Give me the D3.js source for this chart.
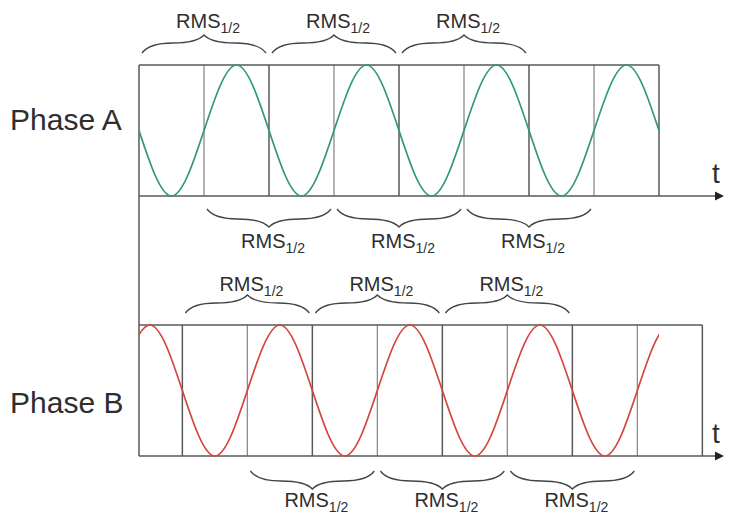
<!DOCTYPE html>
<html>
<head>
<meta charset="utf-8">
<script src="https://cdn.jsdelivr.net/npm/d3@7"></script>
<style>
  body { margin: 0; background: #fff; }
  text { font-family: "Liberation Sans", Arial, sans-serif; fill: #2e2e2e; }
</style>
</head>
<body>
<div id="chart"></div>
<script>
// Time is measured in half-cycles of the mains period
const gridA = [0, 1, 2, 3, 4, 5, 6, 7, 8];
const gridB = [0, 0.667, 1.667, 2.667, 3.667, 4.667, 5.667, 6.667, 7.667, 8.667];

// Waveform samples (peaks, troughs, zero crossings)
const waveA_t = [0, 0.5, 1, 1.5, 2, 2.5, 3, 3.5, 4, 4.5, 5, 5.5, 6, 6.5, 7, 7.5, 8];
const waveA_v = [0, -1, 0, 1, 0, -1, 0, 1, 0, -1, 0, 1, 0, -1, 0, 1, 0];
const waveB_t = [-0.333, 0.167, 0.667, 1.167, 1.667, 2.167, 2.667, 3.167, 3.667, 4.167,
                 4.667, 5.167, 5.667, 6.167, 6.667, 7.167, 7.667, 8.167, 8.667];
const waveB_v = [0, 1, 0, -1, 0, 1, 0, -1, 0, 1, 0, -1, 0, 1, 0, -1, 0, 1, 0];

// RMS 1/2 windows (start, end) in half-cycles
const bracesATop = [[0, 2], [2, 4], [4, 6]];
const bracesABottom = [[1, 3], [3, 5], [5, 7]];
const bracesBTop = [[0.667, 2.667], [2.667, 4.667], [4.667, 6.667]];
const bracesBBottom = [[1.667, 3.667], [3.667, 5.667], [5.667, 7.667]];

const phaseLabels = ["Phase A", "Phase B"];

(function(){
  const width = 731, height = 520;

  const svg = d3.select("#chart")
    .append("svg")
    .attr("width", width)
    .attr("height", height);

  // scales
  const x = d3.scaleLinear().domain([0, 8]).range([139, 659]);
  const yA = d3.scaleLinear().domain([-1, 1]).range([196, 65]);
  const yB = d3.scaleLinear().domain([-1, 1]).range([456, 325]);

  const dark = "#585858", light = "#8c8c8c";

  // clip so the waves stop at the end of the last cell
  svg.append("clipPath").attr("id", "clipWave")
    .append("rect")
    .attr("x", x(0)).attr("y", 0)
    .attr("width", x(8) - x(0)).attr("height", height);

  function panel(grid, y, tMax) {
    const g = svg.append("g");
    const isDark = (i) => grid === gridA ? (i % 2 === 1) : (i % 2 === 0);
    // vertical cell lines
    g.selectAll("line.v")
      .data(grid.slice(1))
      .enter()
      .append("line")
      .attr("x1", d => x(d)).attr("x2", d => x(d))
      .attr("y1", y(1)).attr("y2", y(-1))
      .attr("stroke", (d, i) => isDark(i) ? dark : light)
      .attr("stroke-width", (d, i) => isDark(i) ? 1.5 : 1.3);
    // top border
    g.append("line")
      .attr("x1", x(0)).attr("x2", x(tMax))
      .attr("y1", y(1)).attr("y2", y(1))
      .attr("stroke", dark).attr("stroke-width", 1.5);
    // time axis with arrow
    g.append("line")
      .attr("x1", x(0)).attr("x2", 717)
      .attr("y1", y(-1)).attr("y2", y(-1))
      .attr("stroke", dark).attr("stroke-width", 1.5);
    g.append("path")
      .attr("d", `M715,${y(-1) - 4.5}L724,${y(-1)}L715,${y(-1) + 4.5}Z`)
      .attr("fill", "#222");
    g.append("text")
      .attr("x", 716).attr("y", y(-1) - 13)
      .attr("text-anchor", "middle")
      .style("font-size", "28px")
      .text("t");
  }

  panel(gridA, yA, 8);
  panel(gridB, yB, 8.667);

  // shared vertical axis
  svg.append("line")
    .attr("x1", x(0)).attr("x2", x(0))
    .attr("y1", yA(1)).attr("y2", yB(-1))
    .attr("stroke", dark).attr("stroke-width", 1.5);

  // waves
  function wave(ts, vs, y, color) {
    const pts = ts.map((t, i) => [t, vs[i]]);
    const line = d3.line()
      .x(d => x(d[0]))
      .y(d => y(d[1]))
      .curve(d3.curveNatural);
    svg.append("path")
      .attr("clip-path", "url(#clipWave)")
      .attr("d", line(pts))
      .attr("fill", "none")
      .attr("stroke", color)
      .attr("stroke-width", 1.7);
  }
  wave(waveA_t, waveA_v, yA, "#2f9a72");
  wave(waveB_t, waveB_v, yB, "#d2453f");

  // curly braces with RMS labels
  function braces(list, y0, dir, labelY) {
    const h = 18, a = 10;
    list.forEach(b => {
      const x0 = x(b[0]) + 3, x1 = x(b[1]) - 3;
      const mid = (x0 + x1) / 2, half = (x1 - x0) / 2;
      const ya = y0 + dir * a, yt = y0 + dir * h;
      const p = d3.path();
      p.moveTo(x0, y0);
      p.quadraticCurveTo(x0 + 0.12 * half, ya, x0 + 0.5 * half, ya);
      p.quadraticCurveTo(mid - 0.12 * half, ya, mid, yt);
      p.quadraticCurveTo(mid + 0.12 * half, ya, x1 - 0.5 * half, ya);
      p.quadraticCurveTo(x1 - 0.12 * half, ya, x1, y0);
      svg.append("path")
        .attr("d", p.toString())
        .attr("fill", "none")
        .attr("stroke", "#444")
        .attr("stroke-width", 1.3);

      const t = svg.append("text")
        .attr("x", mid + 4).attr("y", labelY)
        .attr("text-anchor", "middle")
        .style("font-size", "20px");
      t.append("tspan").text("RMS");
      t.append("tspan").attr("dy", 5).style("font-size", "14px").text("1/2");
    });
  }
  braces(bracesATop, 53, -1, 28);
  braces(bracesABottom, 209, 1, 248);
  braces(bracesBTop, 313, -1, 291);
  braces(bracesBBottom, 471, 1, 507);

  // phase labels
  svg.selectAll("text.phase")
    .data(phaseLabels)
    .enter()
    .append("text")
    .attr("class", "phase")
    .attr("x", 10)
    .attr("y", (d, i) => i === 0 ? 130 : 413)
    .style("font-size", "30px")
    .text(d => d);
})();
</script>
</body>
</html>
